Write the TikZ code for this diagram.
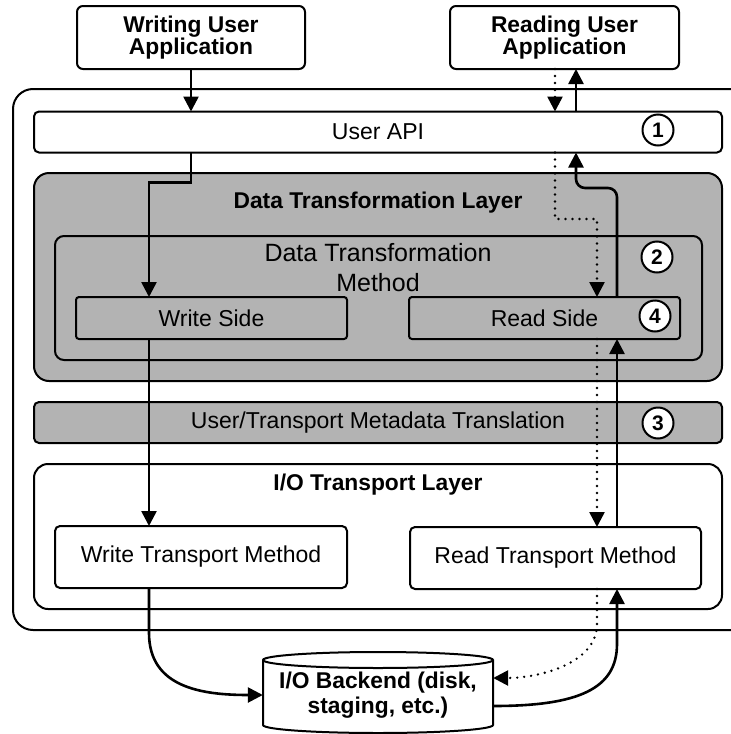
\documentclass[tikz,border=0pt]{standalone}
\usepackage{fontspec}
\setmainfont{Liberation Sans}
\usetikzlibrary{arrows.meta,calc}
\definecolor{lgray}{RGB}{179,179,179}
\begin{document}
\begin{tikzpicture}[x=1pt,y=-1pt,
  box/.style={draw, line width=2pt, inner sep=0pt, outer sep=0pt, rounded corners=5pt, align=center},
  reg/.style={font=\fontsize{23}{24}\selectfont},
  bld/.style={font=\bfseries\fontsize{22.8}{22}\selectfont, align=center},
  num/.style={draw, circle, fill=white, line width=2pt, minimum size=31pt, inner sep=0pt, font=\bfseries\fontsize{21}{21}\selectfont},
  arr/.style={line width=2.6pt, -{Triangle[length=15pt,width=15pt]}},
  darr/.style={line width=2.6pt, line cap=round, dash pattern=on 0pt off 7pt, -{Triangle[length=15pt,width=15pt]}},
]
\useasboundingbox (0,0) rectangle (731,734);
\clip (0,0) rectangle (731,734);

% top applications
\node[box, bld, minimum width=228pt, minimum height=63pt, rounded corners=6pt] (wua) at (191,37.5) {Writing User\\Application};
\node[box, bld, minimum width=229pt, minimum height=63pt, rounded corners=6pt] (rua) at (564.5,37.5) {Reading User\\Application};

% outer frame
\draw[line width=2pt, rounded corners=20pt] (770,89) -- (13,89) -- (13,630) -- (770,630);

% layers
\node[box, fill=white, reg, minimum width=688pt, minimum height=41pt] (api) at (378,132) {User API};
\node[box, fill=lgray, minimum width=688pt, minimum height=208pt, rounded corners=15pt] (dtl) at (378,277) {};
\node[bld] (dtlt) at (378,203) {Data Transformation Layer};
\node[box, fill=lgray, minimum width=647pt, minimum height=124pt, rounded corners=9pt] (dtm) at (378.5,298) {};
\node[font=\fontsize{25}{30}\selectfont, align=center] (dtmt) at (378,268) {Data Transformation\\Method};
\node[box, fill=lgray, reg, minimum width=271pt, minimum height=42pt, rounded corners=3pt] (ws) at (211.5,318) {Write Side};
\node[box, fill=lgray, reg, minimum width=271pt, minimum height=42pt, rounded corners=3pt] (rs) at (544.5,318) {Read Side};
\node[box, fill=lgray, reg, minimum width=688pt, minimum height=41pt] (meta) at (378,422.5) {User/Transport Metadata Translation};
\node[box, fill=white, minimum width=688pt, minimum height=145pt, rounded corners=14pt] (iol) at (378,536.5) {};
\node[bld] (iolt) at (378,485) {I/O Transport Layer};
\node[box, fill=white, reg, minimum width=292pt, minimum height=62pt] (wtm) at (201,557) {Write Transport Method};
\node[box, fill=white, reg, minimum width=291pt, minimum height=62pt] (rtm) at (555.5,558) {Read Transport Method};

% backend cylinder
\draw[line width=2pt, fill=white] (263,660) -- (263,725)
  arc[start angle=180, end angle=360, x radius=115pt, y radius=8pt] -- (493,660)
  arc[start angle=0, end angle=180, x radius=115pt, y radius=8pt] -- cycle;
\draw[line width=2pt] (263,660) arc[start angle=180, end angle=360, x radius=115pt, y radius=8pt];
\node[font=\bfseries\fontsize{22.8}{25}\selectfont, align=center, minimum width=230pt, minimum height=65pt, inner sep=0pt] (cyl) at (378,695) {I/O Backend (disk,\\staging, etc.)};

% helper coordinates
\coordinate (wx) at (149,0);
\coordinate (dx) at (555,0);
\coordinate (ux) at (576,0);
\coordinate (rx) at (597,0);
\coordinate (sx) at (617,0);
\coordinate (yj) at (0,188);
\coordinate (yd) at (0,219);

% write path
\draw[arr] (wua.south) -- (api.north -| wua.south);
\draw[arr] (api.south -| wua.south) -- ++(0,30) -| (ws.north -| wx);
\draw[arr] (ws.south -| wx) -- (wtm.north -| wx);
\draw[arr] (wtm.south -| wx) -- ++(0,45) .. controls +(0,55) and +(-60,0) .. (cyl.west);

% read path (solid)
\draw[arr] ($(cyl.east)+(0,11)$) .. controls +(85,0) and +(0,45) .. ($(rtm.south -| sx)+(0,55)$) -- (rtm.south -| sx);
\draw[arr] (rtm.north -| sx) -- (rs.south -| sx);
\draw[arr, rounded corners=9pt] (rs.north -| sx) -- (sx |- yj) -- (ux |- yj) -- (api.south -| ux);
\draw[arr] (api.north -| ux) -- (rua.south -| ux);

% read request path (dotted)
\draw[darr] (rua.south -| dx) -- (api.north -| dx);
\draw[darr] (api.south -| dx) -- (dx |- yd) -- (rx |- yd) -- (rs.north -| rx);
\draw[darr] (rs.south -| rx) -- (rtm.north -| rx);
\draw[darr] (rtm.south -| rx) -- ++(0,35) .. controls +(0,40) and +(45,0) .. ($(cyl.east)+(0,-17)$);

% numbered markers
\node[num] (c1) at (658,130) {1};
\node[num] (c2) at (657,257) {2};
\node[num] (c4) at (655,316) {4};
\node[num] (c3) at (658,423) {3};
\end{tikzpicture}
\end{document}
